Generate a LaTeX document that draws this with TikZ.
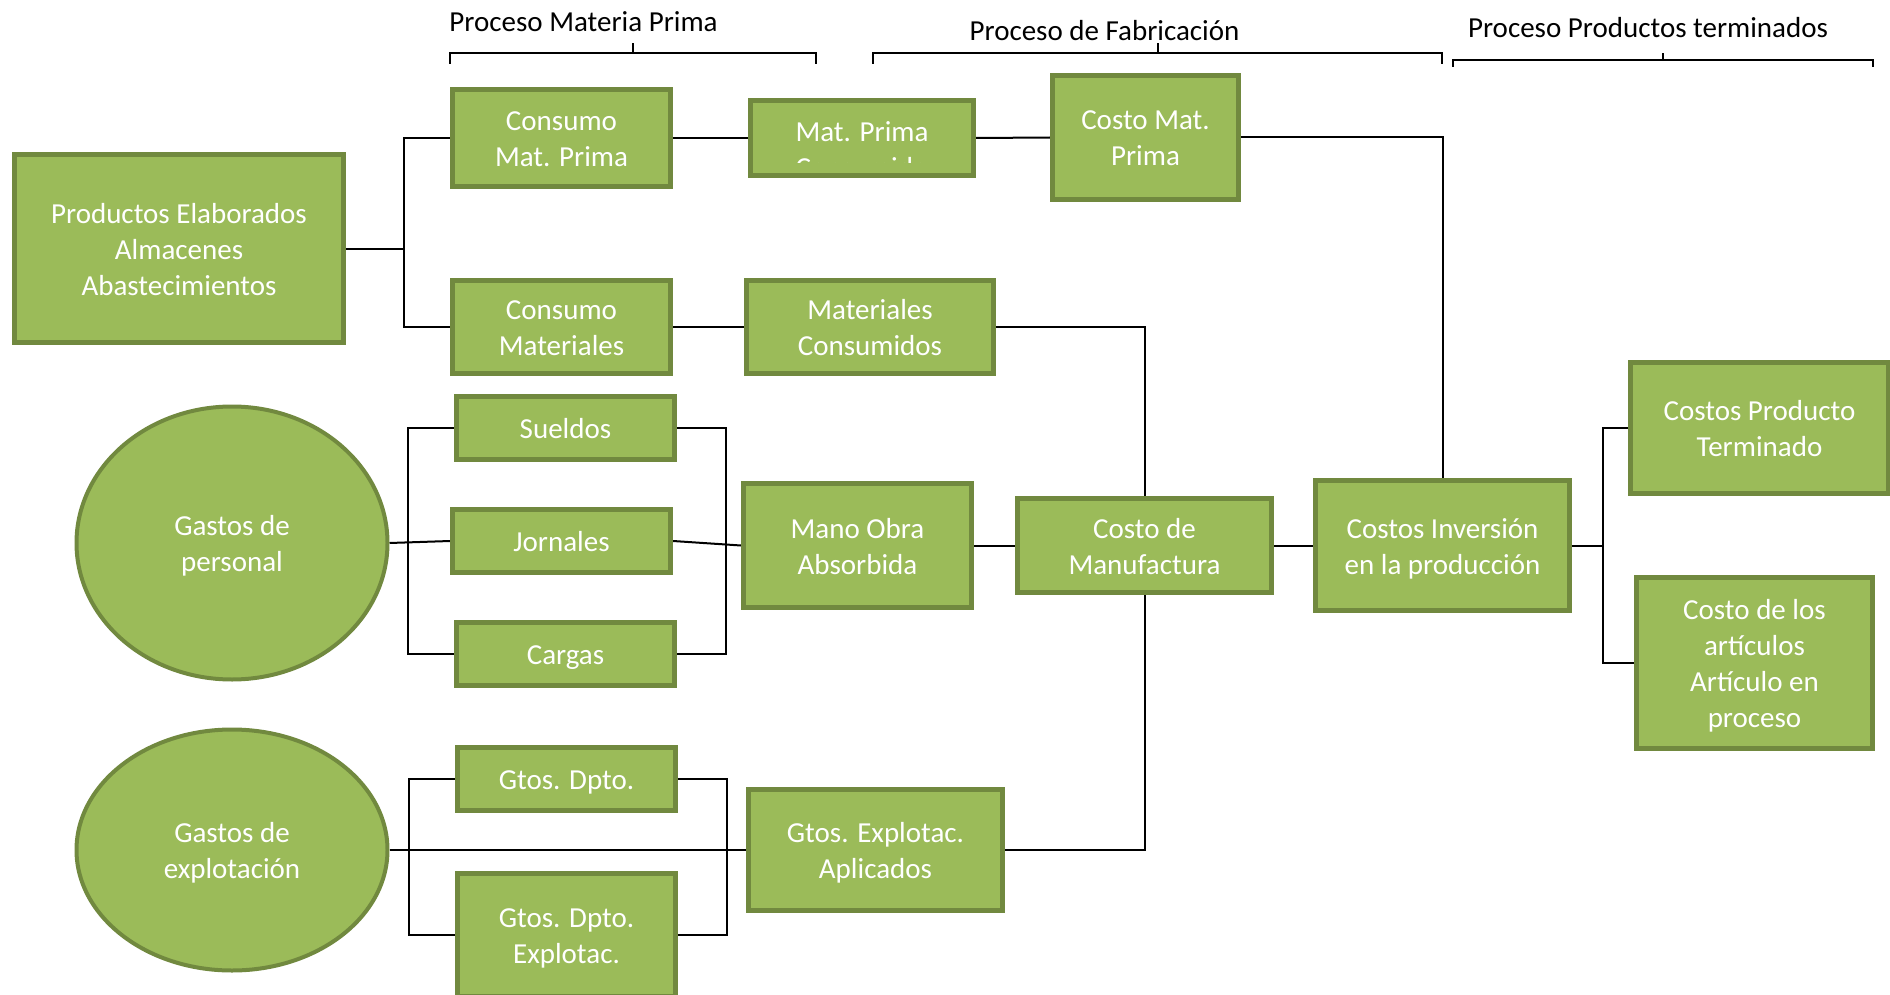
\documentclass[tikz,border=0pt]{standalone}
\usepackage{fontspec}
\setmainfont{Carlito}
\usetikzlibrary{shapes.geometric,backgrounds}
\definecolor{gfill}{HTML}{9BBB59}
\definecolor{gline}{HTML}{71893F}
\newcommand{\tstr}{\rule{0pt}{27pt}}
\newcommand{\bstr}{\rule[-6pt]{0pt}{6pt}}
\begin{document}
\begin{tikzpicture}[x=1pt,y=-1pt,
  gbox/.style={draw=gline, fill=gfill, line width=5pt, rectangle, inner sep=0pt, text=white, align=center, font=\fontsize{29}{36}\selectfont},
  gell/.style={draw=gline, fill=gfill, line width=4pt, ellipse, inner sep=0pt, text=white, align=center, font=\fontsize{29}{36}\selectfont},
  conn/.style={draw=black, line width=2pt},
  brk/.style={draw=black, line width=2pt},
  hdr/.style={font=\fontsize{29}{35}\selectfont, text=black, inner sep=0pt, anchor=base}
]
\clip (0,0) rectangle (1890,995);

% nodes
\node[gbox, minimum width=329, minimum height=188] (prod) at (179,248.5) {\tstr Productos Elaborados\\Almacenes\\Abastecimientos\bstr};
\node[gbox, minimum width=218, minimum height=97] (cmp) at (561.5,138) {\tstr Consumo\\Mat. Prima\bstr};
\node[gbox, minimum width=223, minimum height=75] (mpc) at (862,138) {};
\node[gbox, minimum width=186, minimum height=124] (cmatp) at (1145.5,137.5) {\tstr Costo Mat.\\Prima\bstr};
\node[gbox, minimum width=218, minimum height=93] (cmat) at (561.5,327) {\tstr Consumo\\Materiales\bstr};
\node[gbox, minimum width=247, minimum height=93] (matc) at (870,327) {\tstr Materiales\\Consumidos\bstr};
\node[gbox, minimum width=218, minimum height=63] (sueldos) at (565.5,428) {\tstr Sueldos\bstr};
\node[gbox, minimum width=218, minimum height=63] (jornales) at (561.5,541) {\tstr Jornales\bstr};
\node[gbox, minimum width=218, minimum height=63] (cargas) at (565.5,654) {\tstr Cargas\bstr};
\node[gbox, minimum width=228, minimum height=124] (mano) at (857.5,545.5) {\tstr Mano Obra\\Absorbida\bstr};
\node[gbox, minimum width=254, minimum height=94] (cman) at (1144.5,545.5) {\tstr Costo de\\Manufactura\bstr};
\node[gbox, minimum width=254, minimum height=130] (cinv) at (1442.5,545.5) {\tstr Costos Inversión\\en la producción\bstr};
\node[gbox, minimum width=258, minimum height=131] (cpt) at (1759.5,428) {\tstr Costos Producto\\Terminado\bstr};
\node[gbox, minimum width=236, minimum height=171] (cart) at (1754.5,663) {\tstr Costo de los\\artículos\\Artículo en\\proceso\bstr};
\node[gbox, minimum width=218, minimum height=63] (gtdpto) at (566.5,779) {\tstr Gtos. Dpto.\bstr};
\node[gbox, minimum width=218, minimum height=123] (gtdptoe) at (566.5,935) {\tstr Gtos. Dpto.\\Explotac.\bstr};
\node[gbox, minimum width=254, minimum height=121] (gtap) at (875.5,850) {\tstr Gtos. Explotac.\\Aplicados\bstr};
\node[gell, minimum width=311, minimum height=273] (gper) at (232,543) {\tstr Gastos de\\personal\bstr};
\node[gell, minimum width=311, minimum height=241] (gexp) at (232,850) {\tstr Gastos de\\explotación\bstr};

% clipped text of Mat. Prima Consumido
\begin{scope}
\clip (752,102) rectangle (972,163);
\node[hdr, text=white] (mpcA) at (862,141.5) {Mat. Prima};
\node[hdr, text=white] (mpcB) at (862,177.5) {Consumido};
\end{scope}

% headers
\node[hdr] (h1) at (583.5,31.5) {Proceso Materia Prima};
\node[hdr] (h2) at (1104.5,40.5) {Proceso de Fabricación};
\node[hdr] (h3) at (1648,37.5) {Proceso Productos terminados};

% brackets
\draw[brk] (450,64) -- (450,53) -- (816,53) -- (816,64);
\draw[brk] (633,53) -- (633,43);
\draw[brk] (873,64) -- (873,53) -- (1442,53) -- (1442,64);
\draw[brk] (1158,53) -- (1158,43);
\draw[brk] (1453,67) -- (1453,60) -- (1873,60) -- (1873,67);
\draw[brk] (1663,60) -- (1663,53);

% connectors
\coordinate (j1) at (404,248.5);
\coordinate (lp) at (408,541);
\coordinate (rp) at (726,541);
\coordinate (le) at (409,850);
\coordinate (re) at (727,850);
\coordinate (rf) at (1603,545.5);
\begin{scope}[on background layer]
\draw[conn] (prod.east) -- (j1);
\draw[conn] (cmp.west) -| (j1) |- (cmat.west);
\draw[conn] (cmp.east) -- (mpc.west);
\draw[conn] (mpc.east) -- (cmatp.west);
\draw[conn] (cmatp.east) -| (cinv.north);
\draw[conn] (cmat.east) -- (matc.west);
\draw[conn] (matc.east) -| (cman.north);
\draw[conn] (gper.east) -- (jornales.west);
\draw[conn] (sueldos.west) -| (lp) |- (cargas.west);
\draw[conn] (sueldos.east) -| (rp) |- (cargas.east);
\draw[conn] (jornales.east) -- (mano.west);
\draw[conn] (mano.east) -- (cman.west);
\draw[conn] (cman.east) -- (cinv.west);
\draw[conn] (cman.south) |- (gtap.east);
\draw[conn] (gexp.east) -- (gtap.west);
\draw[conn] (gtdpto.west) -| (le) |- (gtdptoe.west);
\draw[conn] (gtdpto.east) -| (re) |- (gtdptoe.east);
\draw[conn] (cinv.east) -- (rf);
\draw[conn] (cpt.west) -| (rf) |- (cart.west);
\end{scope}
\end{tikzpicture}
\end{document}
